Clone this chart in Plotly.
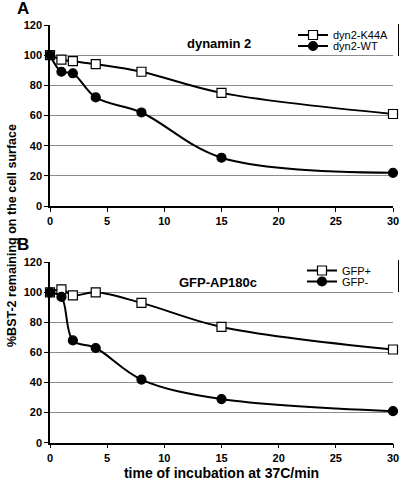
import plotly.graph_objects as go

W, H = 400, 481
def px(x): return x / W
def py(y): return 1 - y / H

# data
time_min = [0, 1, 2, 4, 8, 15, 30]
dyn2_k44a = [100, 97, 96, 94, 89, 75, 61]
dyn2_wt = [100, 89, 88, 72, 62, 32, 22]
gfp_pos = [100, 102, 98, 100, 93, 77, 62]
gfp_neg = [100, 97, 68, 63, 42, 29, 21]
x_ticks = [0, 5, 10, 15, 20, 25, 30]
y_ticks = [0, 20, 40, 60, 80, 100, 120]

FONT = "Liberation Sans"
fig = go.Figure()

def add(xa, ya, y, name, filled, legend):
    fig.add_trace(go.Scatter(
        x=time_min, y=y, name=name, xaxis=xa, yaxis=ya, mode="lines+markers",
        line=dict(color="black", width=2, shape="spline", smoothing=1),
        marker=dict(symbol="circle" if filled else "square", size=9,
                    color="black" if filled else "white",
                    line=dict(color="black", width=1.2)),
        cliponaxis=False, legend=legend))

add("x", "y", dyn2_k44a, "dyn2-K44A", False, "legend")
add("x", "y", dyn2_wt, "dyn2-WT", True, "legend2")
add("x2", "y2", gfp_pos, "GFP+", False, "legend3")
add("x2", "y2", gfp_neg, "GFP-", True, "legend4")

ax_common = dict(showline=True, linecolor="black", linewidth=1.5, ticks="outside",
                 ticklen=4, tickcolor="black", tickwidth=1, automargin=False,
                 tickfont=dict(family=FONT, size=11, color="black", weight="bold"),
                 zeroline=False)
xcommon = dict(ax_common, range=[0, 30], tickvals=x_ticks, showgrid=False)
ycommon = dict(ax_common, range=[0, 120], tickvals=y_ticks, showgrid=True,
               gridcolor="#8c8c8c", gridwidth=1)

xdom = [px(50), px(393)]
fig.update_layout(
    width=W, height=H, margin=dict(l=0, r=0, t=0, b=0, autoexpand=False),
    paper_bgcolor="white", plot_bgcolor="white",
    xaxis=dict(xcommon, domain=xdom, anchor="y"),
    yaxis=dict(ycommon, domain=[py(206), py(25)], anchor="x"),
    xaxis2=dict(xcommon, domain=xdom, anchor="y2",
                title=dict(text="time of incubation at 37C/min",
                           font=dict(family=FONT, size=14, color="black", weight="bold"),
                           standoff=6)),
    yaxis2=dict(ycommon, domain=[py(442.7), py(262.3)], anchor="x2"),
    showlegend=True,
)

def leg(ypix, xpix):
    return dict(x=px(xpix), y=py(ypix), xanchor="left", yanchor="middle",
                bgcolor="rgba(0,0,0,0)", borderwidth=0, itemwidth=30,
                font=dict(family=FONT, size=11, color="black"))

fig.update_layout(legend=leg(35, 293), legend2=leg(46, 293),
                  legend3=leg(270.5, 302), legend4=leg(281.5, 302))

# legend box right edges
for y0, y1 in [(24, 56), (260, 292)]:
    fig.add_shape(type="line", xref="paper", yref="paper",
                  x0=px(398.5), x1=px(398.5), y0=py(y1), y1=py(y0),
                  line=dict(color="black", width=1), layer="above")

anns = [
    dict(text="A", x=px(23), y=py(9), size=17),
    dict(text="B", x=px(23), y=py(244), size=17),
    dict(text="dynamin 2", x=px(219), y=py(43), size=13),
    dict(text="GFP-AP180c", x=px(218), y=py(282), size=13),
]
for a in anns:
    fig.add_annotation(text=a["text"], x=a["x"], y=a["y"], xref="paper", yref="paper",
                       showarrow=False, xanchor="center", yanchor="middle",
                       font=dict(family=FONT, size=a["size"], color="black", weight="bold"))
fig.add_annotation(text="%BST-2 remaining on the cell surface", x=px(12), y=py(236),
                   xref="paper", yref="paper", showarrow=False, textangle=-90,
                   xanchor="center", yanchor="middle",
                   font=dict(family=FONT, size=12.5, color="black", weight="bold"))

fig.write_html("out.html", config={"displayModeBar": False},
               post_script="document.body.style.margin='0';document.body.style.padding='0';")
